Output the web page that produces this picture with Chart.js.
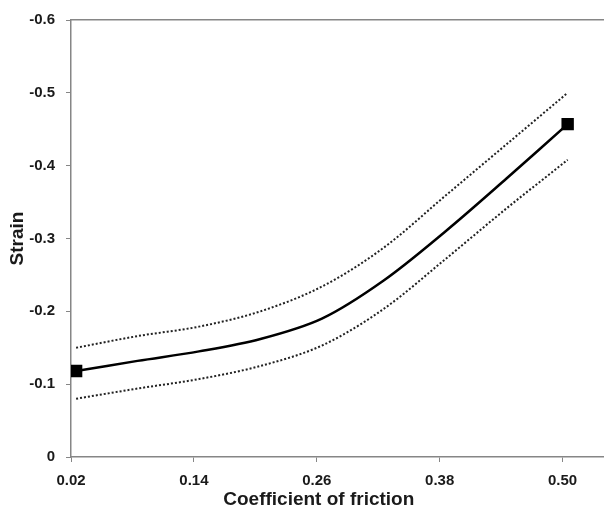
<!DOCTYPE html>
<html>
<head>
<meta charset="utf-8">
<script src="https://cdn.jsdelivr.net/npm/chart.js@4/dist/chart.umd.min.js"></script>
<style>
  html, body { margin: 0; padding: 0; background: #fff; overflow: hidden; }
  #wrap { width: 613px; height: 511px; }
</style>
</head>
<body>
<div id="wrap"><canvas id="strainChart"></canvas></div>
<script>
const frictionValues = [0.025, 0.085, 0.145, 0.205, 0.265, 0.325, 0.385, 0.445, 0.505];
const strainMean = [-0.118, -0.132, -0.145, -0.162, -0.190, -0.242, -0.309, -0.382, -0.457];
const strainUpper = [-0.150, -0.166, -0.179, -0.200, -0.234, -0.287, -0.358, -0.429, -0.500];
const strainLower = [-0.080, -0.094, -0.107, -0.125, -0.153, -0.203, -0.271, -0.341, -0.408];
const xTickValues = [0.02, 0.14, 0.26, 0.38, 0.50];
const yTickValues = [-0.6, -0.5, -0.4, -0.3, -0.2, -0.1, 0];

const axisColor = "#868686";
const textColor = "#1a1a1a";
const fontFamily = "'Liberation Sans', Arial, sans-serif";

function toPoints(values) {
  return frictionValues.map((x, i) => ({ x: x, y: values[i] }));
}

const endMarkers = frictionValues.map((x, i) => (i === 0 || i === frictionValues.length - 1 ? 7 : 0));

const ctx = document.querySelector("#strainChart").getContext("2d");
new Chart(ctx, {
  type: "scatter",
  data: {
    datasets: [
      {
        label: "Upper",
        data: toPoints(strainUpper),
        showLine: true,
        borderColor: "#222",
        borderWidth: 2,
        borderDash: [2, 2],
        pointRadius: 0,
        tension: 0.33
      },
      {
        label: "Lower",
        data: toPoints(strainLower),
        showLine: true,
        borderColor: "#222",
        borderWidth: 2,
        borderDash: [2, 2],
        pointRadius: 0,
        tension: 0.33
      },
      {
        label: "Strain",
        data: toPoints(strainMean),
        showLine: true,
        borderColor: "#000",
        borderWidth: 2.5,
        pointStyle: "rect",
        pointRadius: endMarkers,
        pointBackgroundColor: "#000",
        pointBorderColor: "#000",
        tension: 0.33
      }
    ]
  },
  options: {
    responsive: true,
    maintainAspectRatio: false,
    animation: false,
    layout: { padding: 0 },
    plugins: {
      legend: { display: false },
      tooltip: { enabled: false }
    },
    scales: {
      x: {
        type: "linear",
        position: "bottom",
        min: 0.02,
        max: 0.54,
        afterBuildTicks: (scale) => {
          scale.ticks = xTickValues.map((v) => ({ value: v }));
        },
        afterFit: (scale) => {
          scale.height = 54;
        },
        ticks: {
          color: textColor,
          font: { family: fontFamily, size: 15, weight: "bold" },
          padding: 10,
          maxRotation: 0,
          callback: (v) => Number(v).toFixed(2)
        },
        grid: {
          drawOnChartArea: false,
          color: axisColor,
          tickLength: 5
        },
        border: { color: axisColor, width: 1.5 },
        title: {
          display: true,
          // trailing spaces nudge the centred title left, like the original
          text: "Coefficient of friction       ",
          color: textColor,
          font: { family: fontFamily, size: 19, weight: "bold" },
          padding: { top: -8, bottom: 0 }
        }
      },
      x2: {
        type: "linear",
        position: "top",
        min: 0.02,
        max: 0.54,
        afterFit: (scale) => {
          scale.height = 16;
        },
        ticks: { display: false },
        grid: { display: false },
        border: { display: true, color: axisColor, width: 1.5 }
      },
      y: {
        type: "linear",
        reverse: true,
        min: -0.6,
        max: 0,
        afterBuildTicks: (scale) => {
          scale.ticks = yTickValues.map((v) => ({ value: v }));
        },
        afterFit: (scale) => {
          scale.width = 71;
        },
        ticks: {
          color: textColor,
          font: { family: fontFamily, size: 15, weight: "bold" },
          padding: 11,
          callback: (v) => (v === 0 ? "0" : Number(v).toFixed(1))
        },
        grid: {
          drawOnChartArea: false,
          color: axisColor,
          tickLength: 5
        },
        border: { color: axisColor, width: 1.5 },
        title: {
          display: true,
          text: "Strain",
          color: textColor,
          font: { family: fontFamily, size: 19, weight: "bold" },
          padding: { top: 6, bottom: 0 }
        }
      }
    }
  }
});
</script>
</body>
</html>
